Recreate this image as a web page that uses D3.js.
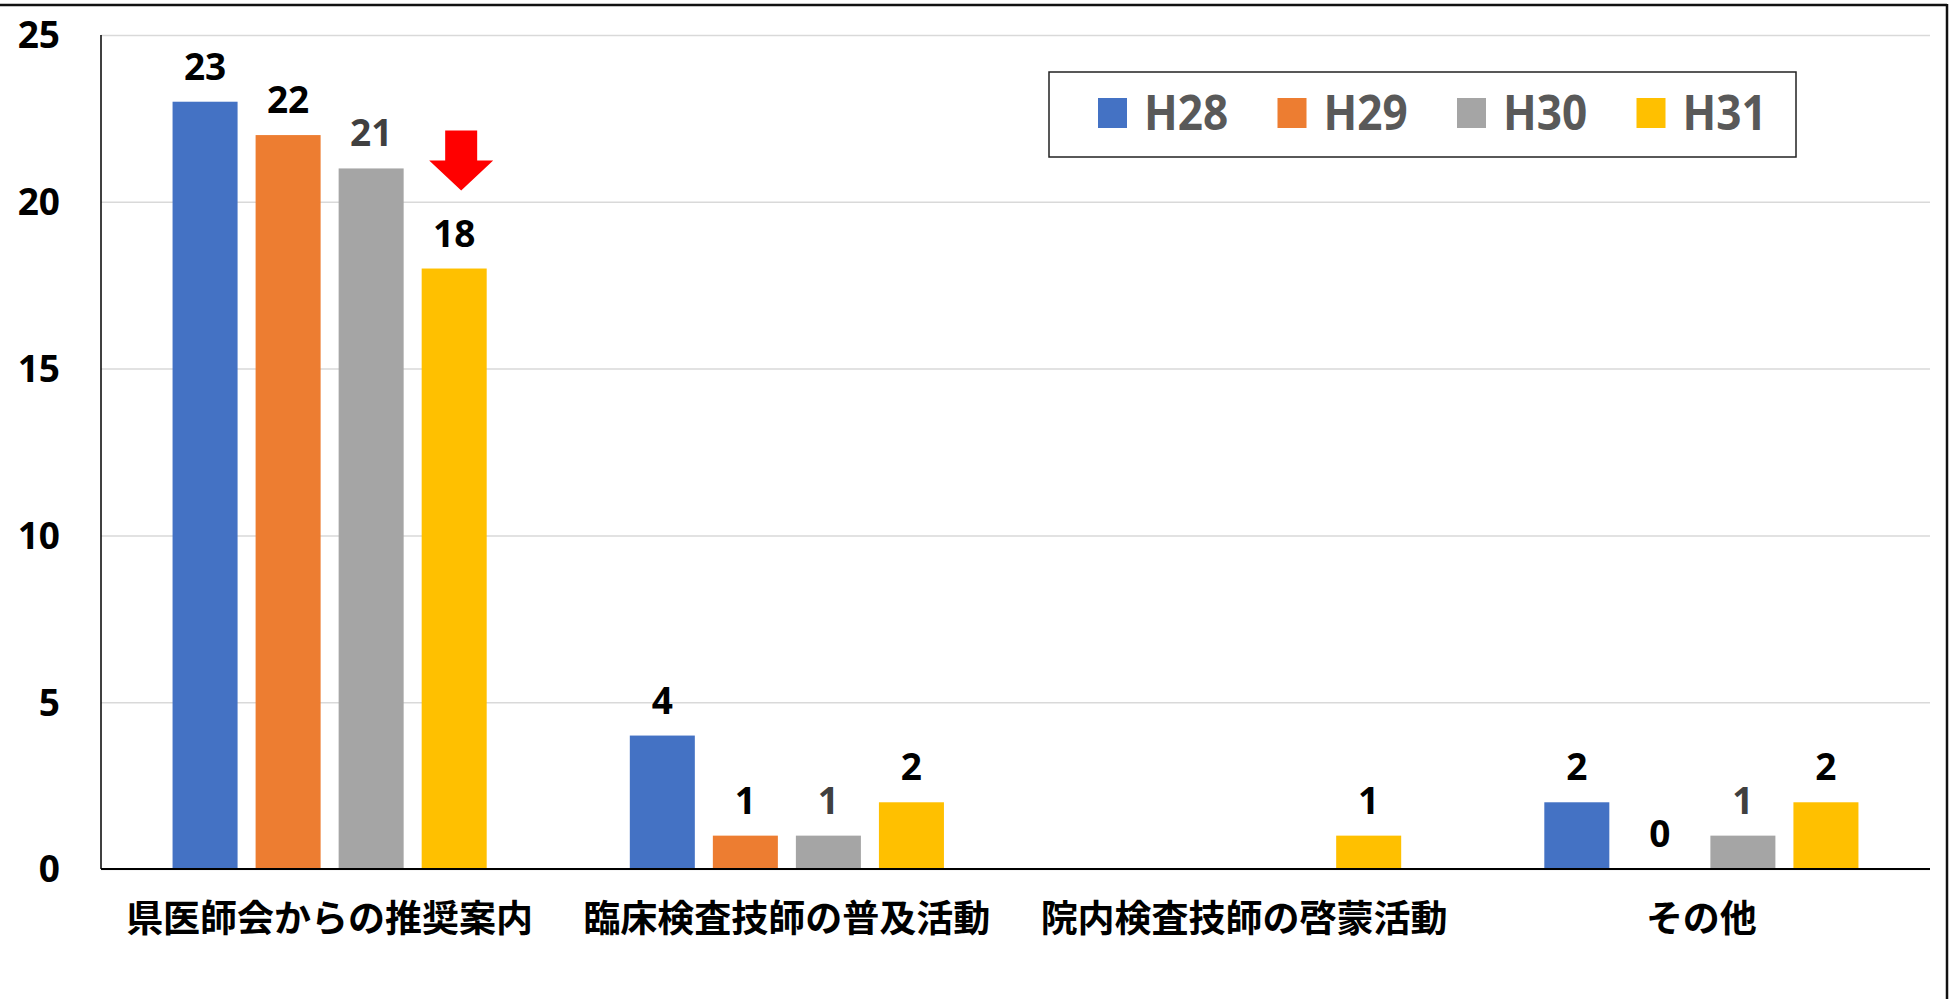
<!DOCTYPE html>
<html>
<head>
<meta charset="utf-8">
<script src="https://cdn.jsdelivr.net/npm/d3@7"></script>
<style>
  body { margin: 0; background: #fff; }
  svg { display: block; }
</style>
</head>
<body>
<script>
// chart data
var categories = ["県医師会からの推奨案内", "臨床検査技師の普及活動", "院内検査技師の啓蒙活動", "その他"];
var years = ["H28", "H29", "H30", "H31"];
var h28 = [23, 4, null, 2];
var h29 = [22, 1, null, 0];
var h30 = [21, 1, null, 1];
var h31 = [18, 2, 1, 2];
var yTicks = [0, 5, 10, 15, 20, 25];
var colors = ["#4472c4", "#ed7d31", "#a5a5a5", "#ffc000"];
var labelColors = ["#000", "#000", "#404040", "#000"];

var series = [h28, h29, h30, h31];

var W = 1951, H = 999;
// plot area (note: "top" is reserved on window, so use a margin object)
var plot = {left: 101, right: 1930, top: 35, bottom: 869};

var svg = d3.select("body").append("svg")
    .attr("width", W)
    .attr("height", H);

// scales
var x0 = d3.scaleBand().domain(categories).range([plot.left, plot.right])
    .paddingInner(0.313).paddingOuter(0.1565);
var x1 = d3.scaleBand().domain(years).range([0, x0.bandwidth()])
    .paddingInner(0.217).paddingOuter(0);
var y = d3.scaleLinear().domain([0, 25]).range([plot.bottom, plot.top]);
var color = d3.scaleOrdinal().domain(years).range(colors);

// frame (top + right edges only, like the cropped original)
svg.append("line").attr("x1", 0).attr("x2", 1947).attr("y1", 5).attr("y2", 5)
    .attr("stroke", "#111").attr("stroke-width", 2.5);
svg.append("line").attr("x1", 1947).attr("x2", 1947).attr("y1", 4).attr("y2", H)
    .attr("stroke", "#111").attr("stroke-width", 2.5);

// gridlines
svg.append("g")
    .attr("transform", "translate(" + plot.left + ",0)")
    .call(d3.axisLeft(y).tickValues(yTicks).tickSize(-(plot.right - plot.left)).tickFormat(""))
    .call(function(g) { g.select(".domain").remove(); })
    .call(function(g) { g.selectAll("line").attr("stroke", "#d9d9d9").attr("stroke-width", 1.5); });

// y tick labels
svg.append("g")
    .selectAll("text")
    .data(yTicks)
    .enter().append("text")
      .attr("x", 60)
      .attr("y", function(d) { return y(d); })
      .attr("dy", "0.36em")
      .attr("text-anchor", "end")
      .style("font", "bold 37px 'Noto Sans', sans-serif")
      .attr("fill", "#000")
      .text(function(d) { return d; });

// bars
var rows = categories.map(function(c, i) {
  return years.map(function(yr, j) { return {cat: c, year: yr, j: j, value: series[j][i]}; });
});

var group = svg.selectAll(".grp")
    .data(rows)
    .enter().append("g")
      .attr("class", "grp")
      .attr("transform", function(d) { return "translate(" + x0(d[0].cat) + ",0)"; });

var cells = group.selectAll(".cell")
    .data(function(d) { return d.filter(function(e) { return e.value !== null; }); })
    .enter().append("g").attr("class", "cell");

cells.append("rect")
    .attr("x", function(d) { return x1(d.year); })
    .attr("width", x1.bandwidth())
    .attr("y", function(d) { return y(d.value); })
    .attr("height", function(d) { return y(0) - y(d.value); })
    .attr("fill", function(d) { return color(d.year); });

cells.append("text")
    .attr("x", function(d) { return x1(d.year) + x1.bandwidth() / 2; })
    .attr("y", function(d) { return y(d.value) - 22; })
    .attr("text-anchor", "middle")
    .style("font", "bold 37px 'Noto Sans', sans-serif")
    .attr("fill", function(d) { return labelColors[d.j]; })
    .text(function(d) { return d.value; });

// y axis line and x axis line
svg.append("line").attr("x1", plot.left).attr("x2", plot.left).attr("y1", plot.top).attr("y2", plot.bottom)
    .attr("stroke", "#000").attr("stroke-width", 1.5);
svg.append("line").attr("x1", plot.left).attr("x2", plot.right).attr("y1", plot.bottom).attr("y2", plot.bottom)
    .attr("stroke", "#000").attr("stroke-width", 2);

// category labels
svg.append("g")
    .selectAll("text")
    .data(categories)
    .enter().append("text")
      .attr("x", function(d) { return x0(d) + x0.bandwidth() / 2; })
      .attr("y", 932)
      .attr("text-anchor", "middle")
      .style("font", "bold 37px 'Noto Sans CJK JP', sans-serif")
      .attr("fill", "#000")
      .text(function(d) { return d; });

// red down arrow above the H31 bar of the first category
var ax = x0(categories[0]) + x1("H31") + x1.bandwidth() / 2 + 7;
var tipY = y(h31[0]) - 78;
svg.append("path")
    .attr("d", "M" + (ax - 16) + "," + (tipY - 60) +
               " L" + (ax + 16) + "," + (tipY - 60) +
               " L" + (ax + 16) + "," + (tipY - 30) +
               " L" + (ax + 32) + "," + (tipY - 30) +
               " L" + ax + "," + tipY +
               " L" + (ax - 32) + "," + (tipY - 30) +
               " L" + (ax - 16) + "," + (tipY - 30) + " Z")
    .attr("fill", "#ff0000");

// legend
var legend = svg.append("g").attr("transform", "translate(1049,72)");
legend.append("rect")
    .attr("width", 747).attr("height", 85)
    .attr("fill", "#fff").attr("stroke", "#222").attr("stroke-width", 1.5);
var item = legend.selectAll(".item")
    .data(years)
    .enter().append("g")
      .attr("class", "item")
      .attr("transform", function(d, i) { return "translate(" + (49 + i * 179.5) + ",0)"; });
item.append("rect")
    .attr("y", 26).attr("width", 29).attr("height", 30)
    .attr("fill", function(d) { return color(d); });
// slightly condensed text, closer to the narrow original face
item.append("text")
    .attr("transform", "translate(46,58) scale(0.9,1)")
    .style("font", "bold 49px 'Noto Sans', sans-serif")
    .attr("fill", "#595959")
    .text(function(d) { return d; });
</script>
</body>
</html>
